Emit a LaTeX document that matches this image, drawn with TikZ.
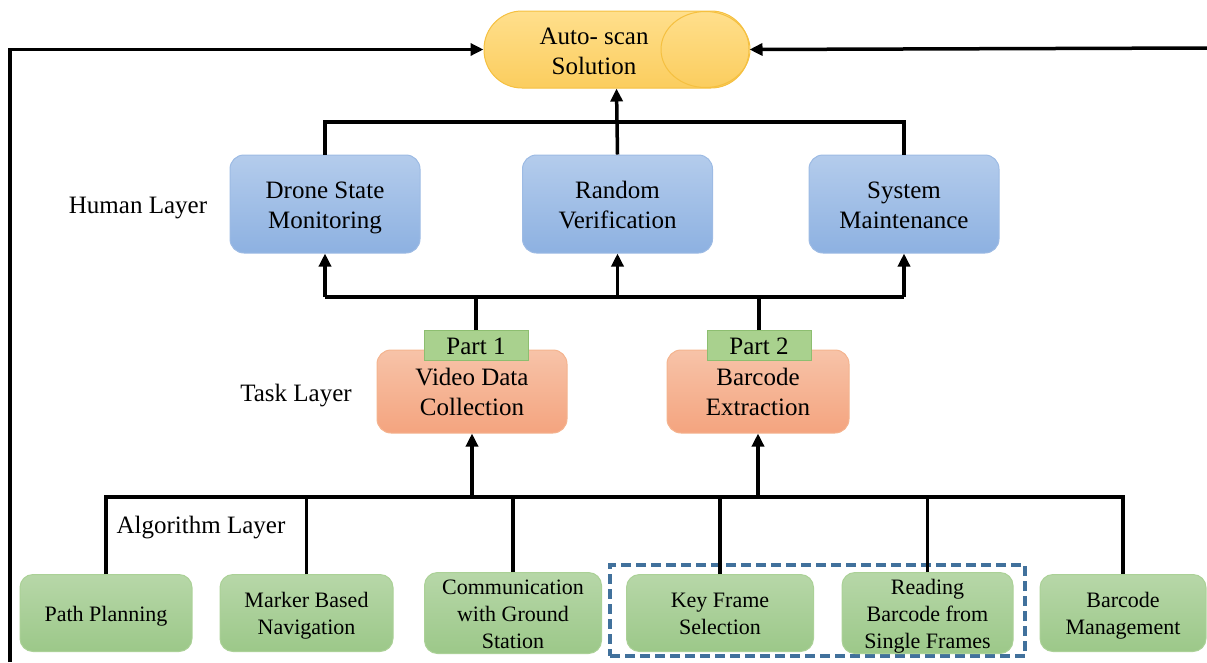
\documentclass[tikz,border=0pt]{standalone}
\usepackage{fontspec}
\setmainfont{Liberation Serif}
\usetikzlibrary{arrows.meta,shapes.geometric}
\definecolor{captop}{HTML}{FFDF8C}
\definecolor{capbot}{HTML}{FBCD5E}
\definecolor{capline}{HTML}{F5C040}
\definecolor{bluetop}{HTML}{B4CCEC}
\definecolor{bluebot}{HTML}{8DB1E1}
\definecolor{blueline}{HTML}{9DBBE4}
\definecolor{ortop}{HTML}{F7C3A8}
\definecolor{orbot}{HTML}{F4A47F}
\definecolor{orline}{HTML}{F4B48F}
\definecolor{grtop}{HTML}{B7D7A8}
\definecolor{grbot}{HTML}{9CC889}
\definecolor{grline}{HTML}{ABD197}
\definecolor{partfill}{HTML}{A9D18E}
\definecolor{partline}{HTML}{8DBE70}
\definecolor{dashblue}{HTML}{41719C}
\newcommand\ctext[1]{\raisebox{-3pt}[\height][\depth]{\begin{tabular}{@{}c@{}}#1\end{tabular}}}
\begin{document}
\begin{tikzpicture}[x=1pt,y=-1pt,
  conn/.style={line width=3.5pt, black},
  arr/.style={conn, -{Triangle[length=13pt,width=12pt]}},
  bigfont/.style={font=\fontsize{25}{30}\selectfont},
  smallfont/.style={font=\fontsize{22}{27}\selectfont},
  humanbox/.style={draw=blueline, line width=1pt, top color=bluetop, bottom color=bluebot, rounded corners=14pt, minimum width=190pt, minimum height=98pt, inner sep=0pt, bigfont},
  taskbox/.style={draw=orline, line width=1pt, top color=ortop, bottom color=orbot, rounded corners=14pt, minimum height=83pt, inner sep=0pt, bigfont},
  algbox/.style={draw=grline, line width=1pt, top color=grtop, bottom color=grbot, rounded corners=13pt, minimum height=77pt, inner sep=0pt, smallfont},
  parttag/.style={draw=partline, line width=1pt, fill=partfill, minimum width=104pt, minimum height=21pt, inner sep=0pt, bigfont},
  layerlabel/.style={inner sep=0pt, bigfont},
  grpbox/.style={draw=dashblue, line width=3.5pt, dash pattern=on 10pt off 5pt, minimum width=415pt, minimum height=91pt, inner sep=0pt}
]
\useasboundingbox (0,0) rectangle (1207,662);

% capsule
\node[draw=capline, line width=1pt, top color=captop, bottom color=capbot, rounded corners=38pt, minimum width=265pt, minimum height=77pt, inner sep=0pt] (cap) at (616.5,49.5) {};
\node[draw=capline, line width=1pt, ellipse, minimum width=89pt, minimum height=76pt, inner sep=0pt] (capend) at (705.5,49.5) {};
\node[inner sep=0pt, bigfont] (captxt) at (594,50) {\ctext{Auto- scan\\Solution}};

% human layer
\node[layerlabel] (hl) at (138,208) {Human Layer};
\node[humanbox] (drone) at (325,204) {\ctext{Drone State\\Monitoring}};
\node[humanbox] (random) at (617.5,204) {\ctext{Random\\Verification}};
\node[humanbox] (maint) at (904,204) {\ctext{System\\Maintenance}};

% task layer
\node[layerlabel] (tl) at (296,396) {Task Layer};
\node[taskbox, minimum width=190pt] (video) at (472,391.5) {\ctext{Video Data\\Collection}};
\node[taskbox, minimum width=182pt] (barex) at (758,391.5) {\ctext{Barcode\\Extraction}};
\node[parttag] (p1) at (476,345.5) {\ctext{Part 1}};
\node[parttag] (p2) at (759,345.5) {\ctext{Part 2}};

% algorithm layer
\node[layerlabel] (al) at (201,528) {Algorithm Layer};
\node[grpbox] (grp) at (817.5,610.5) {};
\node[algbox, minimum width=172pt] (path) at (106,613) {\ctext{Path Planning}};
\node[algbox, minimum width=173pt] (marker) at (306.5,613) {\ctext{Marker Based\\Navigation}};
\node[algbox, minimum width=177pt] (comm) at (513,613) {\ctext{Communication\\with Ground\\Station}};
\node[algbox, minimum width=187pt] (key) at (720,613) {\ctext{Key Frame\\Selection}};
\node[algbox, minimum width=171pt] (read) at (927.5,613) {\ctext{Reading\\Barcode from\\Single Frames}};
\node[algbox, minimum width=166pt] (mgmt) at (1123,613) {\ctext{Barcode\\Management}};

% coordinates
\coordinate (topbar) at (0,122);
\coordinate (midbar) at (0,297);
\coordinate (lowbar) at (0,497);
\coordinate (leftend) at (10,662);
\coordinate (rightend) at (1207,48);

% outer feedback lines
\draw[arr] (leftend) |- (cap.west);
\draw[arr] (rightend) -- (cap.east);

% human -> capsule
\draw[conn] (drone.north) |- (topbar -| maint.north) -- (maint.north);
\draw[arr] (random.north) -- (cap.south);

% task -> human
\draw[conn] (midbar -| drone.south) -- (midbar -| maint.south);
\draw[arr] (midbar -| drone.south) -- (drone.south);
\draw[arr] (midbar -| random.south) -- (random.south);
\draw[arr] (midbar -| maint.south) -- (maint.south);
\draw[conn] (p1.north) -- (p1.north |- midbar);
\draw[conn] (p2.north) -- (p2.north |- midbar);

% algorithm -> task
\draw[conn] (path.north) |- (lowbar -| mgmt.north) -- (mgmt.north);
\draw[conn] (marker.north) -- (marker.north |- lowbar);
\draw[conn] (comm.north) -- (comm.north |- lowbar);
\draw[conn] (key.north) -- (key.north |- lowbar);
\draw[conn] (read.north) -- (read.north |- lowbar);
\draw[arr] (lowbar -| video.south) -- (video.south);
\draw[arr] (lowbar -| barex.south) -- (barex.south);
\end{tikzpicture}
\end{document}
